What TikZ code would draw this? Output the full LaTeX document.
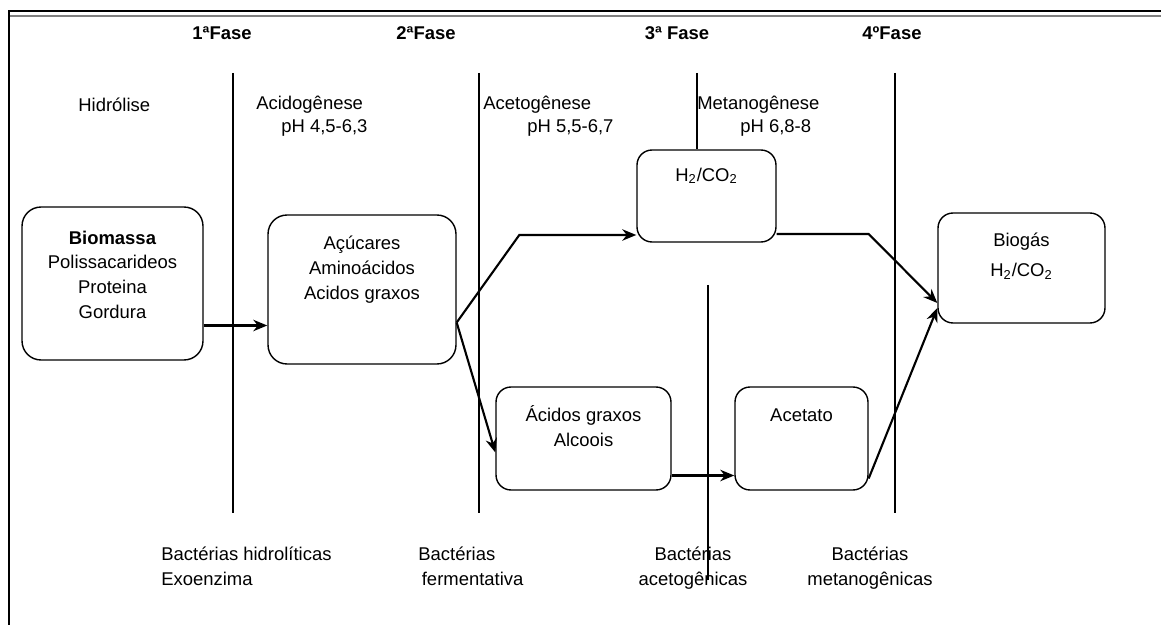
\documentclass[tikz,border=0pt]{standalone}
\usepackage{fontspec}
\setmainfont{Liberation Sans}
\usetikzlibrary{positioning,arrows.meta,calc}

\begin{document}
\begin{tikzpicture}[
  x=0.02cm, y=-0.02cm,
  >={Stealth[length=8pt,width=6.5pt]},
  font=\fontsize{10.5}{14.2}\selectfont,
  caixa/.style={draw=black, line width=0.8pt, rounded corners=0.38cm, inner sep=0pt},
  caixap/.style={caixa, rounded corners=0.3cm},
  txt/.style={inner sep=0pt, align=center},
  rot/.style={inner sep=0pt, anchor=west},
  tit/.style={inner sep=0pt, font=\fontsize{10.5}{13}\selectfont\bfseries},
  arr/.style={->, line width=1.2pt},
  fase/.style={line width=1pt}
]
  \useasboundingbox (0,0) rectangle (1161,625);

  % Moldura
  \draw[line width=0.9pt] (9,625) -- (9,11) -- (1161,11);
  \draw[gray, line width=1.4pt] (10,16) -- (1161,16);

  % Fases
  \node[tit] (f1) at (222,33) {1ªFase};
  \node[tit] (f2) at (426,33) {2ªFase};
  \node[tit] (f3) at (677,33) {3ª Fase};
  \node[tit] (f4) at (892,33) {4ºFase};

  \node[rot] (hid) at (78,105) {Hidrólise};
  \node[rot] (acid) at (256,105) {Acidogênese};
  \node[rot] (acidph) at (281,128) {pH 4,5-6,3};
  \node[rot] (acet) at (483,105) {Acetogênese};
  \node[rot] (acetph) at (527,128) {pH 5,5-6,7};
  \node[rot] (met) at (697,105) {Metanogênese};
  \node[rot] (metph) at (740,128) {pH 6,8-8};

  % Caixas
  \node[caixa, minimum width=3.62cm, minimum height=3.06cm] (bio) at (112.5,283.5) {};
  \node[txt, below=0.48cm of bio.north] (bioT) {\textbf{Biomassa}\\Polissacarideos\\Proteina\\Gordura};
  \node[caixa, minimum width=3.76cm, minimum height=2.98cm] (acu) at (362,289.5) {};
  \node[txt, below=0.42cm of acu.north] (acuT) {Açúcares\\Aminoácidos\\Acidos graxos};
  \node[caixap, minimum width=2.78cm, minimum height=1.84cm] (h2) at (706.5,196) {};
  \node[txt, below=0.36cm of h2.north] (h2T) {H\textsubscript{2}/CO\textsubscript{2}};
  \node[caixap, minimum width=3.34cm, minimum height=2.2cm] (gas) at (1021.5,268) {};
  \node[txt, below=0.4cm of gas.north] (gasT) {Biogás\\[3pt]H\textsubscript{2}/CO\textsubscript{2}};
  \node[caixap, minimum width=3.5cm, minimum height=2.06cm] (aci) at (583.5,438.5) {};
  \node[txt, below=0.38cm of aci.north] (aciT) {Ácidos graxos\\Alcoois};
  \node[caixap, minimum width=2.66cm, minimum height=2.06cm] (ace) at (801.5,438.5) {};
  \node[txt, below=0.45cm of ace.north] (aceT) {Acetato};

  % Linhas das fases
  \foreach \x in {233,479,895}
    \draw[fase] (\x,73) -- (\x,513);
  \draw[fase] (697,73) -- (697,73 |- h2.north);
  \draw[fase] (708,285) -- (708,580);

  % Setas
  \coordinate (split) at ($(acu.east)+(0,33)$);
  \draw[arr] ($(bio.east)+(0,42)$) -- ($(acu.west)+(0,36)$);
  \draw[arr] (split) -- ($(h2.west)+(-117,39)$) -- ($(h2.west)+(0,39)$);
  \draw[arr] (split) -- ($(aci.west)+(0,14)$);
  \draw[arr] ($(aci.east)+(0,37)$) -- ($(ace.west)+(0,37)$);
  \draw[arr] ($(h2.east)+(0,38)$) -- ($(h2.east)+(92,38)$) -- ($(gas.west)+(0,35)$);
  \draw[arr] ($(ace.east)+(0,40)$) -- ($(gas.west)+(0,40)$);

  % Bacterias
  \node[txt, anchor=north west, align=left] (bhid) at (161,547) {Bactérias hidrolíticas\\Exoenzima};
  \node[txt, anchor=north west, align=left] (bfer) at (418,547) {Bactérias\\\hspace{2pt}fermentativa};
  \node[txt, anchor=north] (bace) at (693,547) {Bactérias\\acetogênicas};
  \node[txt, anchor=north] (bmet) at (870,547) {Bactérias\\metanogênicas};
\end{tikzpicture}
\end{document}
